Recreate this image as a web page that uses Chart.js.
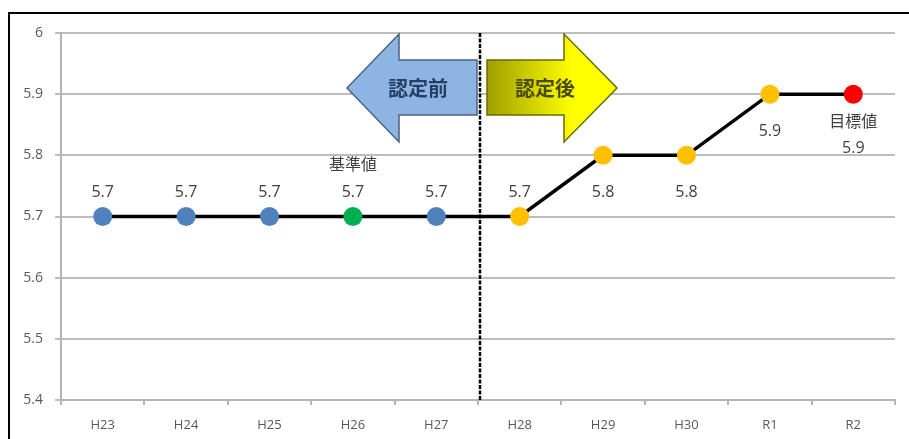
<!DOCTYPE html>
<html>
<head>
<meta charset="utf-8">
<script src="https://cdn.jsdelivr.net/npm/chart.js@4.4.1/dist/chart.umd.min.js"></script>
<style>
  html, body { margin: 0; padding: 0; background: #fff; }
  canvas { display: block; }
</style>
</head>
<body>
<canvas id="myChart" width="909" height="439"></canvas>
<script>
// data
const categories = ["H23", "H24", "H25", "H26", "H27", "H28", "H29", "H30", "R1", "R2"];
const values = [5.7, 5.7, 5.7, 5.7, 5.7, 5.7, 5.8, 5.8, 5.9, 5.9];
const notes = ["", "", "", "基準値", "", "", "", "", "", "目標値"];
const yTickLabels = ["5.4", "5.5", "5.6", "5.7", "5.8", "5.9", "6"];
const arrowTexts = ["認定前", "認定後"];

// styles
const pointColors = ["#4F81BD", "#4F81BD", "#4F81BD", "#00B050", "#4F81BD",
  "#FFC000", "#FFC000", "#FFC000", "#FFC000", "#FF0000"];
const labelBelow = [false, false, false, false, false, false, true, true, true, true];
const FONT = "'Open Sans', 'Noto Sans CJK JP', sans-serif";

// outer frame + white bg
const frame = {
  id: "frame",
  beforeDraw(chart) {
    const ctx = chart.ctx;
    ctx.save();
    ctx.fillStyle = "#fff";
    ctx.fillRect(0, 0, chart.width, chart.height);
    ctx.strokeStyle = "#000";
    ctx.lineWidth = 2;
    ctx.strokeRect(9, 13, 1000, 1000);
    ctx.restore();
  },
};

// dashed divider + the two arrows
const arrows = {
  id: "arrows",
  beforeDatasetsDraw(chart) {
    const { ctx, chartArea: { top, bottom }, scales: { x } } = chart;
    const mid = (x.getPixelForValue(4) + x.getPixelForValue(5)) / 2;
    ctx.save();

    const hTop = top + 1, bTop = top + 27, cy = top + 55, bBot = top + 82, hBot = top + 109;

    // left arrow
    ctx.beginPath();
    ctx.moveTo(mid - 131, cy);
    ctx.lineTo(mid - 79, hTop);
    ctx.lineTo(mid - 79, bTop);
    ctx.lineTo(mid - 1, bTop);
    ctx.lineTo(mid - 1, bBot);
    ctx.lineTo(mid - 79, bBot);
    ctx.lineTo(mid - 79, hBot);
    ctx.closePath();
    ctx.fillStyle = "#8EB4E3";
    ctx.fill();
    ctx.strokeStyle = "#4A6282";
    ctx.lineWidth = 1.5;
    ctx.stroke();

    // right arrow
    ctx.beginPath();
    ctx.moveTo(mid + 9, bTop);
    ctx.lineTo(mid + 86, bTop);
    ctx.lineTo(mid + 86, hTop);
    ctx.lineTo(mid + 139, cy);
    ctx.lineTo(mid + 86, hBot);
    ctx.lineTo(mid + 86, bBot);
    ctx.lineTo(mid + 9, bBot);
    ctx.closePath();
    const g = ctx.createLinearGradient(mid + 9, 0, mid + 95, 0);
    g.addColorStop(0, "#9E9E00");
    g.addColorStop(1, "#FFFF00");
    ctx.fillStyle = g;
    ctx.fill();
    ctx.strokeStyle = "#6B6B00";
    ctx.stroke();

    ctx.font = "bold 20px 'Noto Sans CJK JP', sans-serif";
    ctx.textAlign = "center";
    ctx.textBaseline = "middle";
    ctx.fillStyle = "#243F63";
    ctx.fillText(arrowTexts[0], mid - 60, cy);
    ctx.fillStyle = "#4A4A00";
    ctx.fillText(arrowTexts[1], mid + 67, cy);

    // dashed divider
    ctx.beginPath();
    ctx.setLineDash([4, 1.5]);
    ctx.lineWidth = 2.5;
    ctx.strokeStyle = "#000";
    ctx.moveTo(mid + 2, top);
    ctx.lineTo(mid + 2, bottom);
    ctx.stroke();
    ctx.restore();
  },
};

// value labels
const valueLabels = {
  id: "valueLabels",
  afterDatasetsDraw(chart) {
    const ctx = chart.ctx;
    const meta = chart.getDatasetMeta(0);
    ctx.save();
    ctx.font = "16px " + FONT;
    ctx.fillStyle = "#404040";
    ctx.textAlign = "center";
    ctx.textBaseline = "middle";
    meta.data.forEach((pt, i) => {
      const lines = [];
      if (notes[i]) lines.push(notes[i]);
      lines.push(values[i].toFixed(1));
      if (labelBelow[i]) {
        let y = pt.y + (lines.length > 1 ? 28 : 37);
        lines.forEach((t) => { ctx.fillText(t, pt.x, y); y += 26; });
      } else {
        let y = pt.y - 24 - (lines.length - 1) * 27;
        lines.forEach((t) => { ctx.fillText(t, pt.x, y); y += 27; });
      }
    });
    ctx.restore();
  },
};

const config = {
  type: "line",
  data: {
    labels: categories,
    datasets: [
      {
        data: values,
        borderColor: "#000",
        borderWidth: 3.5,
        pointRadius: 9.5,
        pointHoverRadius: 9.5,
        pointBorderWidth: 0,
        pointBackgroundColor: pointColors,
        tension: 0,
      },
    ],
  },
  options: {
    responsive: false,
    animation: false,
    layout: { padding: { left: 0, top: 33, right: 14, bottom: 0 } },
    plugins: { legend: { display: false }, tooltip: { enabled: false } },
    scales: {
      x: {
        offset: true,
        afterFit(s) { s.height = 39; },
        grid: { offset: true, drawOnChartArea: false, tickLength: 5, color: "#B4B4B4", lineWidth: 2 },
        border: { color: "#B4B4B4", width: 2 },
        ticks: { color: "#595959", font: { family: FONT, size: 13 }, padding: 12, maxRotation: 0 },
      },
      y: {
        min: 5.4,
        max: 6,
        afterFit(s) { s.width = 61; },
        grid: { color: "#BDBDBD", lineWidth: 2, tickLength: 6 },
        border: { color: "#B4B4B4", width: 2 },
        ticks: {
          stepSize: 0.1,
          color: "#595959",
          font: { family: FONT, size: 14 },
          padding: 12,
          callback: (v, i) => yTickLabels[i],
        },
      },
    },
  },
  plugins: [frame, arrows, valueLabels],
};

new Chart(document.getElementById("myChart"), config);
</script>
</body>
</html>
